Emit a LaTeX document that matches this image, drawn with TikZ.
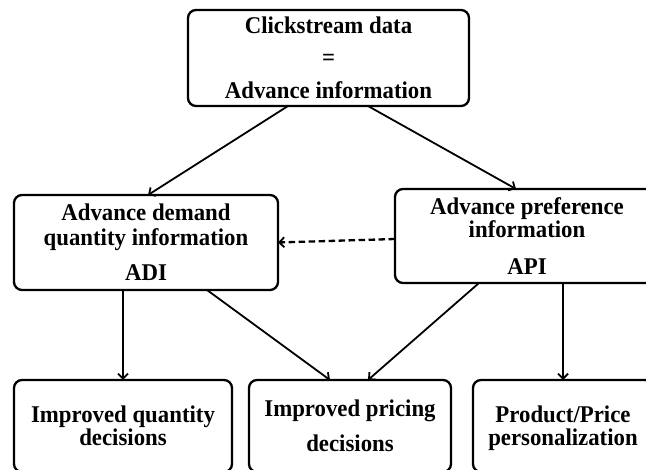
\documentclass[tikz,border=0pt]{standalone}
\usepackage{fontspec}
\setmainfont[FakeStretch=0.95]{Liberation Serif}
\usetikzlibrary{arrows.meta}
\begin{document}
\begin{tikzpicture}[x=1pt,y=-1pt,
  box/.style={draw, line width=2.3pt, rounded corners=8pt, inner sep=0pt, outer sep=0pt,
    align=center, font=\fontsize{24}{26}\selectfont\bfseries},
  arr/.style={line width=1.8pt, -{Straight Barb[length=5pt,width=10pt,line width=1.8pt]}},
  darr/.style={arr, line width=2.3pt, dash pattern=on 6.5pt off 3.5pt}]
\useasboundingbox (0,0) rectangle (646,470);
\node[box, minimum width=281pt, minimum height=96pt] (top) at (328.5,58)
  {Clickstream data\\[6pt]=\\[7pt]Advance information};
\node[box, minimum width=264pt, minimum height=95pt] (adi) at (146,242.5)
  {Advance demand\\[-1pt]quantity information\\[9pt]ADI};
\node[box, minimum width=264pt, minimum height=94pt] (api) at (527,236)
  {Advance preference\\[-3pt]information\\[11pt]API};
\node[box, minimum width=218pt, minimum height=92pt] (qty) at (123,426)
  {Improved quantity\\[-3pt]decisions};
\node[box, minimum width=202pt, minimum height=92pt] (price) at (350,426)
  {Improved pricing\\[9pt]decisions};
\node[box, minimum width=180pt, minimum height=92pt, text depth=0pt] (pers) at (563,426)
  {Product/Price\\[-3pt]personalization};
\draw[arr] ([xshift=-40.5pt]top.south) -- ([xshift=2pt]adi.north);
\draw[arr] ([xshift=39.5pt]top.south) -- ([xshift=-11pt]api.north);
\draw[darr] ([yshift=-3pt]api.west) -- (adi.east);
\draw[arr] (adi.south -| qty.north) -- (qty.north);
\draw[arr] ([xshift=61pt]adi.south) -- ([xshift=-20pt]price.north);
\draw[arr] ([xshift=-48pt]api.south) -- ([xshift=18pt]price.north);
\draw[arr] (api.south -| pers.north) -- (pers.north);
\end{tikzpicture}
\end{document}
